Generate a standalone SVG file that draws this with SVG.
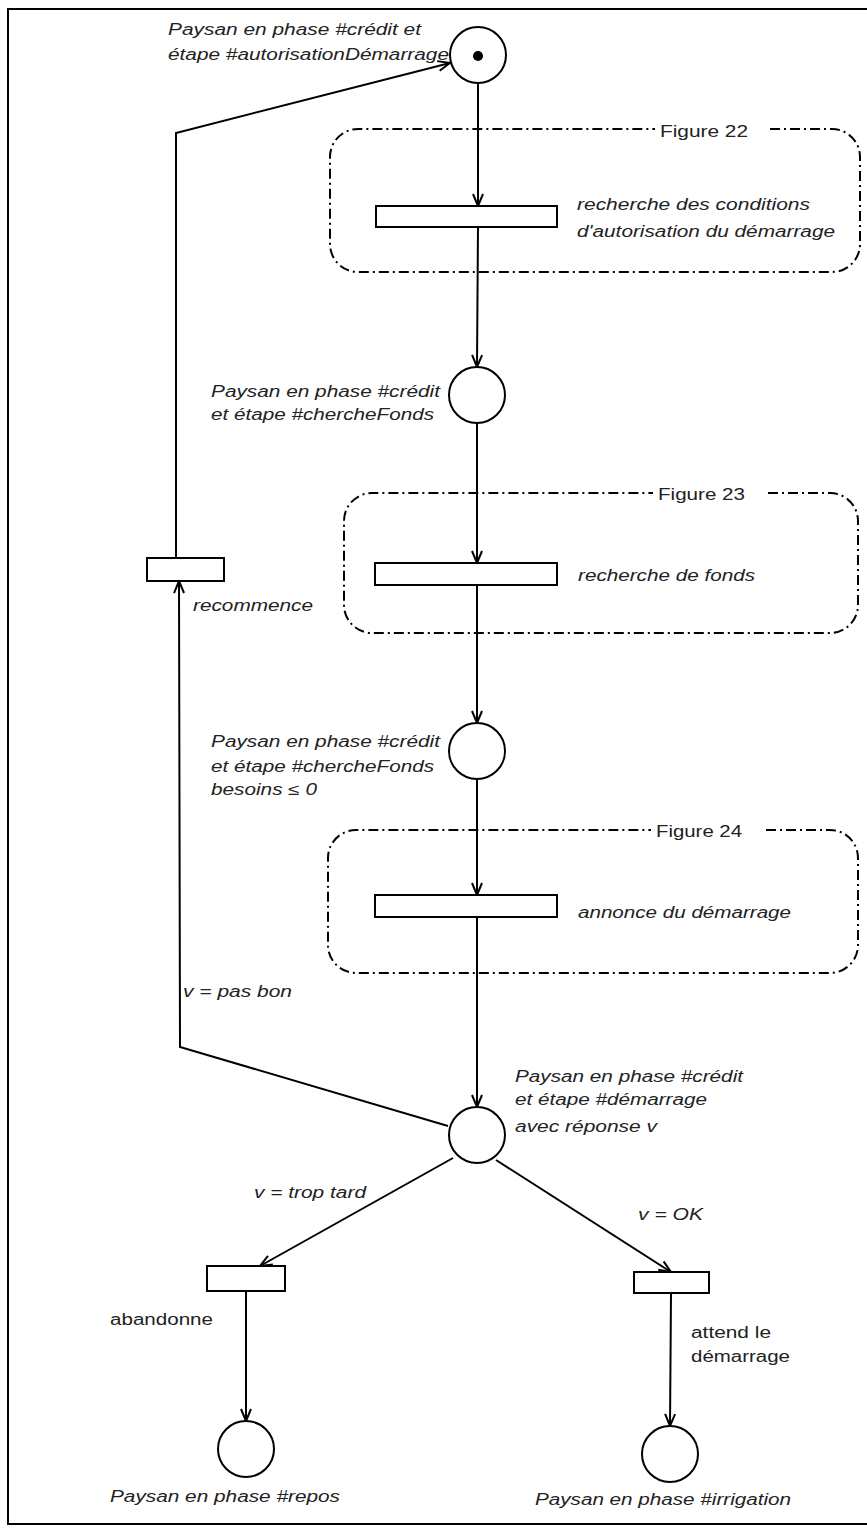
<svg xmlns="http://www.w3.org/2000/svg" width="867" height="1528" viewBox="0 0 867 1528">
<style>
.ln{fill:none;stroke:#000;stroke-width:2}
.pl{fill:#fff;stroke:#000;stroke-width:2}
.tr{fill:#fff;stroke:#000;stroke-width:2}
.bx{fill:none;stroke:#000;stroke-width:2;stroke-dasharray:10 4 2 4}
text{font-family:"Liberation Sans",Arial,sans-serif;font-size:16px;fill:#222}
.i{font-style:italic}
</style>
<defs>
<marker id="arr" viewBox="-14 -7 16 14" refX="0" refY="0" markerWidth="16" markerHeight="14" markerUnits="userSpaceOnUse" orient="auto">
<path d="M-12,-5 L0,0 L-12,5" fill="none" stroke="#000" stroke-width="2"/>
</marker>
</defs>
<rect x="8" y="9" width="880" height="1515" fill="none" stroke="#000" stroke-width="2"/>

<g id="fig22">
<path class="bx" d="M770,129 H832 A28 28 0 0 1 860,157 V244 A28 28 0 0 1 832,272 H358 A28 28 0 0 1 330,244 V157 A28 28 0 0 1 358,129 H655"/>
<text x="660" y="137" textLength="88" lengthAdjust="spacingAndGlyphs">Figure 22</text>
</g>
<g id="fig23">
<path class="bx" d="M768,493 H830 A28 28 0 0 1 858,521 V605 A28 28 0 0 1 830,633 H372 A28 28 0 0 1 344,605 V521 A28 28 0 0 1 372,493 H653"/>
<text x="658" y="500" textLength="87" lengthAdjust="spacingAndGlyphs">Figure 23</text>
</g>
<g id="fig24">
<path class="bx" d="M766,830 H830 A28 28 0 0 1 858,858 V945 A28 28 0 0 1 830,973 H356 A28 28 0 0 1 328,945 V858 A28 28 0 0 1 356,830 H651"/>
<text x="656" y="837" textLength="86" lengthAdjust="spacingAndGlyphs">Figure 24</text>
</g>

<g id="connectors">
<line class="ln" x1="478" y1="83" x2="478" y2="206" marker-end="url(#arr)"/>
<line class="ln" x1="478" y1="227" x2="477" y2="367" marker-end="url(#arr)"/>
<line class="ln" x1="477" y1="423" x2="477" y2="563" marker-end="url(#arr)"/>
<line class="ln" x1="477" y1="585" x2="477" y2="723" marker-end="url(#arr)"/>
<line class="ln" x1="477" y1="779" x2="477" y2="895" marker-end="url(#arr)"/>
<line class="ln" x1="477" y1="917" x2="477" y2="1107" marker-end="url(#arr)"/>
<polyline class="ln" points="448,1126 180,1047 179,581" marker-end="url(#arr)"/>
<polyline class="ln" points="176,558 176,133 450,63" marker-end="url(#arr)"/>
<line class="ln" x1="453" y1="1158" x2="260" y2="1266" marker-end="url(#arr)"/>
<line class="ln" x1="496" y1="1160" x2="671" y2="1272" marker-end="url(#arr)"/>
<line class="ln" x1="246" y1="1291" x2="246" y2="1421" marker-end="url(#arr)"/>
<line class="ln" x1="671" y1="1293" x2="670" y2="1426" marker-end="url(#arr)"/>
</g>

<g id="p_autorisation">
<circle class="pl" cx="478" cy="55" r="28"/>
<circle cx="478" cy="56" r="5" fill="#000"/>
<text class="i" x="168" y="35" textLength="253" lengthAdjust="spacingAndGlyphs">Paysan en phase #crédit et</text>
<text class="i" x="168" y="60" textLength="281" lengthAdjust="spacingAndGlyphs">étape #autorisationDémarrage</text>
</g>
<g id="t_recherche_conditions">
<rect class="tr" x="376" y="206" width="181" height="21"/>
<text class="i" x="577" y="210" textLength="233" lengthAdjust="spacingAndGlyphs">recherche des conditions</text>
<text class="i" x="577" y="237" textLength="258" lengthAdjust="spacingAndGlyphs">d'autorisation du démarrage</text>
</g>
<g id="p_chercheFonds">
<circle class="pl" cx="477" cy="395" r="28"/>
<text class="i" x="211" y="397" textLength="229" lengthAdjust="spacingAndGlyphs">Paysan en phase #crédit</text>
<text class="i" x="211" y="420" textLength="223" lengthAdjust="spacingAndGlyphs">et étape #chercheFonds</text>
</g>
<g id="t_recherche_fonds">
<rect class="tr" x="375" y="563" width="182" height="22"/>
<text class="i" x="578" y="581" textLength="177" lengthAdjust="spacingAndGlyphs">recherche de fonds</text>
</g>
<g id="t_recommence">
<rect class="tr" x="147" y="558" width="77" height="23"/>
<text class="i" x="193" y="611" textLength="120" lengthAdjust="spacingAndGlyphs">recommence</text>
</g>
<g id="p_besoins">
<circle class="pl" cx="477" cy="751" r="28"/>
<text class="i" x="211" y="747" textLength="229" lengthAdjust="spacingAndGlyphs">Paysan en phase #crédit</text>
<text class="i" x="211" y="772" textLength="223" lengthAdjust="spacingAndGlyphs">et étape #chercheFonds</text>
<text class="i" x="211" y="795" textLength="106" lengthAdjust="spacingAndGlyphs">besoins ≤ 0</text>
</g>
<g id="t_annonce">
<rect class="tr" x="375" y="895" width="182" height="22"/>
<text class="i" x="578" y="918" textLength="213" lengthAdjust="spacingAndGlyphs">annonce du démarrage</text>
</g>
<g id="p_demarrage">
<circle class="pl" cx="477" cy="1135" r="28"/>
<text class="i" x="515" y="1082" textLength="228" lengthAdjust="spacingAndGlyphs">Paysan en phase #crédit</text>
<text class="i" x="515" y="1105" textLength="192" lengthAdjust="spacingAndGlyphs">et étape #démarrage</text>
<text class="i" x="515" y="1132" textLength="142" lengthAdjust="spacingAndGlyphs">avec réponse v</text>
<text class="i" x="183" y="997" textLength="109" lengthAdjust="spacingAndGlyphs">v = pas bon</text>
<text class="i" x="254" y="1198" textLength="112" lengthAdjust="spacingAndGlyphs">v = trop tard</text>
<text class="i" x="638" y="1220" textLength="65" lengthAdjust="spacingAndGlyphs">v = OK</text>
</g>
<g id="t_abandonne">
<rect class="tr" x="207" y="1266" width="78" height="25"/>
<text x="110" y="1325" textLength="103" lengthAdjust="spacingAndGlyphs">abandonne</text>
</g>
<g id="t_attend">
<rect class="tr" x="634" y="1272" width="75" height="21"/>
<text x="691" y="1338" textLength="80" lengthAdjust="spacingAndGlyphs">attend le</text>
<text x="691" y="1362" textLength="99" lengthAdjust="spacingAndGlyphs">démarrage</text>
</g>
<g id="p_repos">
<circle class="pl" cx="246" cy="1449" r="28"/>
<text class="i" x="110" y="1502" textLength="230" lengthAdjust="spacingAndGlyphs">Paysan en phase #repos</text>
</g>
<g id="p_irrigation">
<circle class="pl" cx="670" cy="1454" r="28"/>
<text class="i" x="535" y="1505" textLength="256" lengthAdjust="spacingAndGlyphs">Paysan en phase #irrigation</text>
</g>
</svg>
